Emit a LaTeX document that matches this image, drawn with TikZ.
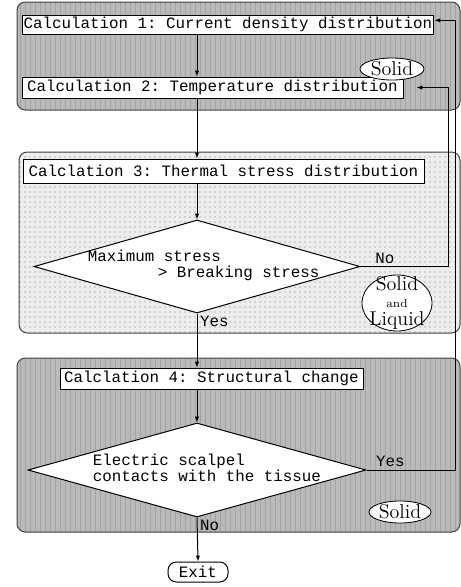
\documentclass[tikz,border=0pt]{standalone}
\usepackage{fontspec}
\setmonofont{Liberation Mono}
\usetikzlibrary{arrows.meta}
\usetikzlibrary{shapes.geometric}
\usetikzlibrary{patterns}

\begin{document}
\begin{tikzpicture}[x=0.6pt, y=-0.6pt,
  flow/.style={-{Latex[length=3.5pt,width=2.6pt]}, line width=0.6pt},
  calcbox/.style={draw, fill=white, line width=0.6pt, inner sep=1pt,
    font=\fontsize{9.5}{9.6}\selectfont\ttfamily},
  decision/.style={diamond, draw, fill=white, line width=0.6pt, inner sep=0pt,
    font=\fontsize{9.5}{9.6}\selectfont\ttfamily},
  phase/.style={ellipse, draw, fill=white, line width=0.5pt, inner sep=0pt, font=\large},
  answer/.style={inner sep=1.5pt, font=\fontsize{9.5}{9.6}\selectfont\ttfamily},
  striped/.style={rounded corners=5pt, draw=black!75, line width=0.6pt,
    preaction={fill=black!27}, pattern=vertical lines, pattern color=black!36},
  speckled/.style={rounded corners=5pt, draw=black!75, line width=0.6pt,
    preaction={fill=black!7}, pattern=dots, pattern color=black!28}]
\useasboundingbox (0,0) rectangle (461,587);

% phase panels
\draw[striped]  (17,2)   rectangle (460,110);
\draw[speckled] (19,152) rectangle (460,333);
\draw[striped]  (17,358) rectangle (460,532);

\coordinate (axis)    at (197,0);
\coordinate (noturn)  at (448,0);
\coordinate (yesturn) at (455,0);

\node[calcbox, minimum width=247pt, minimum height=11.4pt] (c1) at (228,24.5)
  {Calculation 1: Current density distribution};
\node[calcbox, minimum width=228.6pt, minimum height=12.6pt] (c2) at (212.5,87.5)
  {Calculation 2: Temperature distribution};
\node[phase, minimum width=38.4pt, minimum height=13.2pt] (solid1) at (392,69) {Solid};

\node[calcbox, minimum width=240.6pt, minimum height=14.4pt] (c3) at (223.5,171)
  {Calclation 3: Thermal stress distribution};
\node[decision, minimum width=195.6pt, minimum height=55.8pt] (d1) at (197,266.5)
  {\makebox[0pt]{\hspace{8.1pt}\begin{tabular}{@{}l@{}}Maximum stress\\
   \hspace{42pt}> Breaking stress\end{tabular}}};
\node[phase, inner sep=-4pt, minimum width=42pt, minimum height=32.4pt, align=center]
  (solid2) at (397,303) {Solid\\[-4pt]{\scriptsize and}\\[-3pt]Liquid};

\node[calcbox, minimum width=181.8pt, minimum height=12.6pt] (c4) at (211.5,378.5)
  {Calclation 4: Structural change};
\node[decision, minimum width=202.8pt, minimum height=56.4pt] (d2) at (197,470)
  {\makebox[0pt]{\hspace{12pt}\begin{tabular}{@{}l@{}}Electric scalpel\\
   contacts with the tissue\end{tabular}}};
\node[phase, minimum width=37.2pt, minimum height=13.2pt] (solid3) at (400,512) {Solid};

\node[calcbox, rounded corners=5pt, minimum width=36pt, minimum height=12pt] (exit)
  at (198,572) {Exit};

% main flow
\draw[flow] (c1.south -| axis) -- (c2.north -| axis);
\draw[flow] (c2.south -| axis) -- (c3.north -| axis);
\draw[flow] (c3.south -| axis) -- (d1.north);
\draw[flow] (d1.south) -- node[answer, below right, pos=0] {Yes} (c4.north -| axis);
\draw[flow] (c4.south -| axis) -- (d2.north);
\draw[flow] (d2.south) -- node[answer, below right, pos=0] {No} (exit.north);

% loops back
\draw[flow] (d1.east) -- node[answer, above, pos=0.28] {No} (d1.east -| noturn)
  |- ([xshift=7.8pt]c2.east);
\draw[flow] (d2.east) -- node[answer, above, pos=0.27] {Yes} (d2.east -| yesturn)
  |- ([yshift=2.5pt]c1.east);
\end{tikzpicture}
\end{document}
